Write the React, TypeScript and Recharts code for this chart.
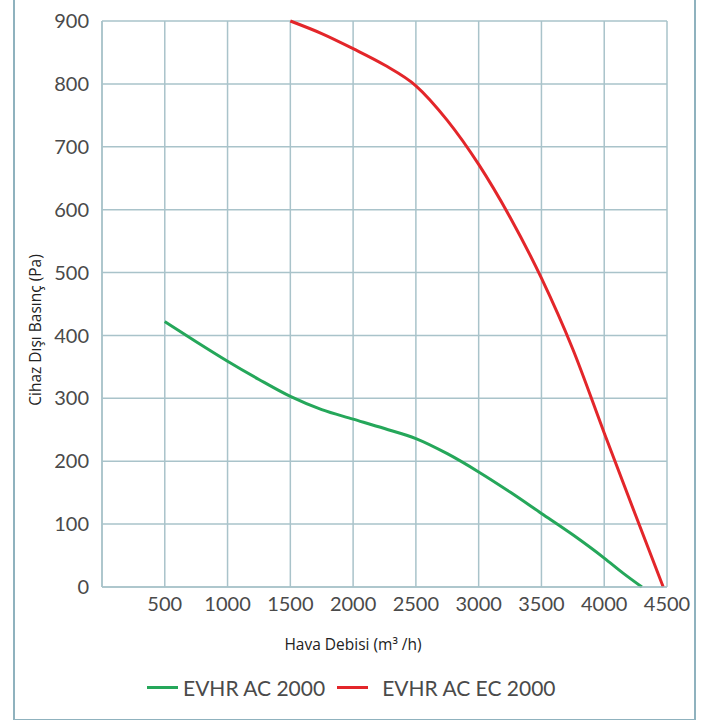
import { LineChart, Line, XAxis, YAxis, CartesianGrid, Legend } from "recharts";

// Hava debisi (m³/h) vs cihaz dışı basınç (Pa)
const greenFlow = [500, 750, 1000, 1250, 1500, 1750, 2000, 2250, 2500, 2750, 3000, 3250, 3500, 3750, 4000, 4150, 4300];
const greenPressure = [422, 390, 359, 330, 303, 282, 267, 252, 236, 212, 183, 151, 117, 83, 46, 22, 0];

const redFlow = [1500, 1750, 2000, 2250, 2500, 2750, 3000, 3250, 3500, 3750, 4000, 4250, 4470];
const redPressure = [900, 880, 856, 830, 797, 742, 672, 588, 491, 378, 245, 114, 0];

const xTicks = [500, 1000, 1500, 2000, 2500, 3000, 3500, 4000, 4500];
const yTicks = [0, 100, 200, 300, 400, 500, 600, 700, 800, 900];

const seriesNames = ["EVHR AC 2000", "EVHR AC EC 2000"];
const seriesColors = ["#25a75a", "#e3262a"];

const greenData = greenFlow.map((flow, i) => ({ flow, pressure: greenPressure[i] }));
const redData = redFlow.map((flow, i) => ({ flow, pressure: redPressure[i] }));

const gridColor = "#a9c3ca";
const textColor = "#4a4a4a";
const tickFont = "Lato, 'DejaVu Sans', sans-serif";
const labelFont = "'Open Sans', 'Liberation Sans', sans-serif";

const LegendContent = () => (
  <div style={{ display: "flex", alignItems: "center", fontFamily: tickFont, fontSize: 21, color: textColor }}>
    <div style={{ width: 31, height: 3, background: seriesColors[0], marginLeft: 147 }} />
    <span style={{ marginLeft: 5 }}>{seriesNames[0]}</span>
    <div style={{ width: 31, height: 3, background: seriesColors[1], marginLeft: 12 }} />
    <span style={{ marginLeft: 14 }}>{seriesNames[1]}</span>
  </div>
);

export default function App() {
  return (
    <div style={{ position: "absolute", left: 0, top: 0, width: 715, height: 720, background: "#fff", overflow: "hidden" }}>
      {/* outer frame */}
      <div
        style={{
          position: "absolute",
          left: 13,
          top: -10,
          width: 679,
          height: 727,
          border: "2px solid #8fb2be",
        }}
      />
      <div style={{ position: "absolute", left: 0, top: 0 }}>
        <LineChart width={715} height={720} margin={{ top: 21, right: 48, bottom: 73, left: 0 }}>
          <CartesianGrid stroke={gridColor} strokeWidth={1.5} />
          <XAxis
            type="number"
            dataKey="flow"
            domain={[0, 4500]}
            ticks={xTicks}
            height={60}
            tickSize={0}
            tickMargin={10}
            tickLine={false}
            axisLine={{ stroke: gridColor, strokeWidth: 1.5 }}
            tick={{ fill: textColor, fontSize: 20, fontFamily: tickFont }}
            allowDuplicatedCategory={false}
            label={{
              content: () => (
                <text x={353} y={650} textAnchor="middle" fill="#222" fontSize={15.5} fontFamily={labelFont}>
                  Hava Debisi (m³ /h)
                </text>
              ),
            }}
          />
          <YAxis
            type="number"
            domain={[0, 900]}
            ticks={yTicks}
            width={102}
            tickSize={0}
            tickMargin={13}
            tickLine={false}
            axisLine={{ stroke: gridColor, strokeWidth: 1.5 }}
            tick={{ fill: textColor, fontSize: 20, fontFamily: tickFont }}
            label={{
              content: () => (
                <text
                  x={35}
                  y={330}
                  transform="rotate(-90, 35, 330)"
                  textAnchor="middle"
                  dominantBaseline="central"
                  fill="#222"
                  fontSize={15.5}
                  fontFamily={labelFont}
                >
                  Cihaz Dışı Basınç (Pa)
                </text>
              ),
            }}
          />
          <Legend
            layout="horizontal"
            verticalAlign="middle"
            align="center"
            wrapperStyle={{ top: 675, left: 0, width: 715 }}
            content={<LegendContent />}
          />
          <Line
            data={greenData}
            dataKey="pressure"
            name={seriesNames[0]}
            type="monotone"
            stroke={seriesColors[0]}
            strokeWidth={3}
            dot={false}
            isAnimationActive={false}
          />
          <Line
            data={redData}
            dataKey="pressure"
            name={seriesNames[1]}
            type="monotone"
            stroke={seriesColors[1]}
            strokeWidth={3}
            dot={false}
            isAnimationActive={false}
          />
        </LineChart>
      </div>
    </div>
  );
}
